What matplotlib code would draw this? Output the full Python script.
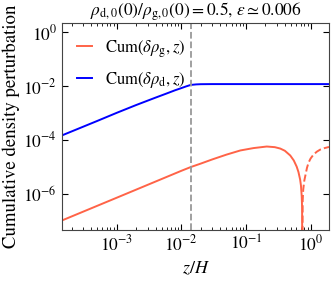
import numpy as np
import matplotlib
matplotlib.use("Agg")
from matplotlib import pyplot as plt
from matplotlib.ticker import LogLocator, NullLocator

# values
z_dust = [1.42e-4, 5e-4, 1e-3, 2e-3, 3.9e-3, 6e-3, 8e-3, 1e-2, 1.2e-2, 1.4e-2,
          1.7e-2, 2e-2, 3e-2, 1e-1, 1.0, 2.0]
cum_dust = [1.45e-4, 5.0e-4, 1.0e-3, 1.95e-3, 3.6e-3, 5.3e-3, 6.9e-3, 8.3e-3,
            9.7e-3, 1.09e-2, 1.14e-2, 1.16e-2, 1.17e-2, 1.17e-2, 1.17e-2, 1.17e-2]

z_gas = [1.42e-4, 1e-3, 1e-2, 1.39e-2, 2e-2, 3e-2, 5e-2, 8.2e-2, 1.31e-1, 2.1e-1,
         2.8e-1, 3.4e-1, 4.0e-1, 4.85e-1, 5.5e-1, 6.1e-1, 6.5e-1, 6.9e-1, 7.1e-1,
         7.3e-1, 7.4e-1, 7.45e-1]
cum_gas = [1.0e-7, 7.0e-7, 7.0e-6, 9.6e-6, 1.3e-5, 1.85e-5, 2.8e-5, 4.0e-5, 4.9e-5,
           5.6e-5, 5.3e-5, 4.7e-5, 3.9e-5, 2.6e-5, 1.7e-5, 1.0e-5, 6.3e-6, 3.3e-6,
           2.0e-6, 8e-7, 3e-7, 1e-9]

# negative part (plotted as |value|, dashed)
z_gas_neg = [7.48e-1, 7.55e-1, 7.7e-1, 8.0e-1, 8.3e-1, 8.8e-1, 9.3e-1, 1.0, 1.11,
             1.25, 1.41, 1.65, 1.93]
cum_gas_neg = [1e-9, 5e-7, 1.4e-6, 3.0e-6, 4.6e-6, 9e-6, 1.4e-5, 2.0e-5, 2.8e-5,
               3.6e-5, 4.3e-5, 4.9e-5, 5.4e-5]

z_d_height = 0.0139

plt.rcParams['font.family'] = ['STIXGeneral', 'DejaVu Serif']
plt.rcParams['mathtext.fontset'] = 'stix'

fig = plt.figure(figsize=(3.33, 2.87), dpi=100)
ax = fig.add_axes([0.186, 0.199, 0.802, 0.721])

red = '#ff6347'
ax.plot(z_gas, cum_gas, color=red, lw=1.4, label=r'Cum$(\delta\rho_{\rm g}, z)$')
ax.plot(z_dust, cum_dust, color='blue', lw=1.4, label=r'Cum$(\delta\rho_{\rm d}, z)$')
ax.plot(z_gas_neg, cum_gas_neg, color=red, lw=1.4, ls='--')
ax.axvline(z_d_height, color='#999999', ls='--', lw=1.3)

ax.set_xscale('log')
ax.set_yscale('log')
ax.set_xlim(1.42e-4, 1.93)
ax.set_ylim(10**-7.35, 10**0.34)
ax.set_yticks([1e0, 1e-2, 1e-4, 1e-6])
ax.yaxis.set_minor_locator(NullLocator())
ax.xaxis.set_major_locator(LogLocator(base=10))
ax.xaxis.set_minor_locator(LogLocator(base=10, subs=np.arange(2, 10)))

ax.tick_params(which='both', direction='in', top=True, right=True, labelsize=12.5)
ax.tick_params(which='major', length=4)
ax.tick_params(which='minor', length=2)
for s in ax.spines.values():
    s.set_color('#444444')

ax.set_xlabel(r'$z/H$', fontsize=13)
ax.set_ylabel('Cumulative density perturbation', fontsize=13.5, labelpad=2)
ax.set_title(r'$\rho_{\rm d,0}(0)/\rho_{\rm g,0}(0) = 0.5$, $\varepsilon \simeq 0.006$',
             fontsize=12.5, pad=2)
ax.legend(loc='upper left', frameon=False, fontsize=12, handlelength=0.9,
          handletextpad=0.8, borderaxespad=0.5, labelspacing=0.6)

fig.savefig('out.png', dpi=100)
